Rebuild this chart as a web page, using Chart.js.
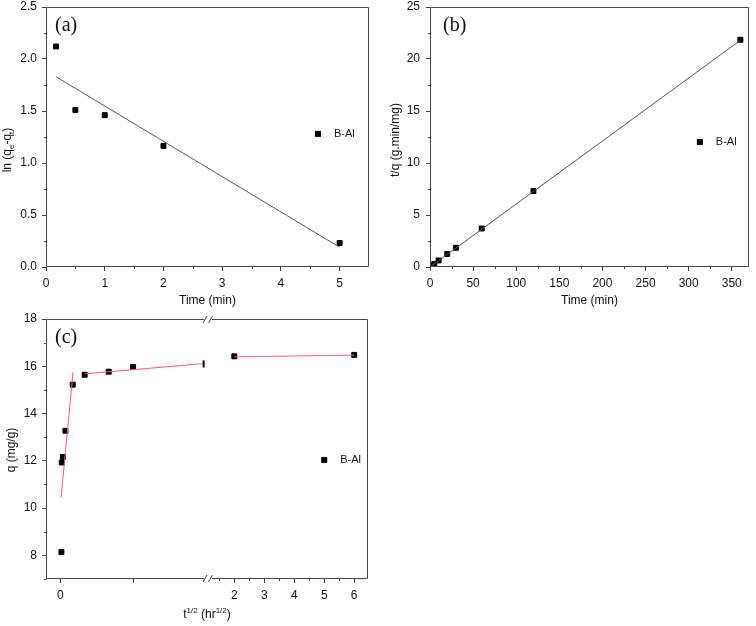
<!DOCTYPE html>
<html>
<head>
<meta charset="utf-8">
<script src="https://cdn.jsdelivr.net/npm/chart.js@4.4.0/dist/chart.umd.min.js"></script>
<style>
  body { margin: 0; background: #fff; }
  #wrap { position: relative; width: 756px; height: 626px; }
  canvas { position: absolute; }
</style>
</head>
<body>
<div id="wrap">
  <canvas id="chartA" width="378" height="312" style="left:0;top:0"></canvas>
  <canvas id="chartB" width="378" height="312" style="left:378px;top:0"></canvas>
  <canvas id="chartC" width="400" height="314" style="left:0;top:312px"></canvas>
</div>
<script>
// (a) ln(qe-qt) vs time
const timeA = [0.17, 0.5, 1, 2, 5];
const lnA = [2.12, 1.51, 1.46, 1.165, 0.23];
const fitTimeA = [0.17, 5];
const fitLnA = [1.83, 0.19];
const ticksAX = [0, 1, 2, 3, 4, 5];
const ticksAY = [0, 0.5, 1, 1.5, 2, 2.5];
const minorAX = [0.5, 1.5, 2.5, 3.5, 4.5];
const minorAY = [0.25, 0.75, 1.25, 1.75, 2.25];

// (b) t/q vs time
const timeB = [2, 5, 10, 20, 30, 60, 120, 360];
const tqB = [0.12, 0.3, 0.63, 1.25, 1.85, 3.7, 7.3, 21.85];
const fitTimeB = [1, 360];
const fitTqB = [0.06, 21.8];
const ticksBX = [0, 50, 100, 150, 200, 250, 300, 350];
const ticksBY = [0, 5, 10, 15, 20, 25];
const minorBX = [25, 75, 125, 175, 225, 275, 325];
const minorBY = [2.5, 7.5, 12.5, 17.5, 22.5];

// (c) q vs t^1/2, broken x axis
const rootTimeC1 = [0.015, 0.02, 0.035, 0.07, 0.17, 0.335, 0.665, 1.0, 1.97];
const qC1 = [8.14, 11.93, 12.16, 13.27, 15.22, 15.64, 15.77, 15.97, 16.1];
const rootTimeC2 = [2, 6];
const qC2 = [16.42, 16.48];
const fit1X = [0.01, 0.175], fit1Y = [10.44, 15.75];
const fit2X = [0.335, 1.96], fit2Y = [15.68, 16.11];
const fit3X = [2, 6], fit3Y = [16.4, 16.47];
const ticksCXL = [0, 1];
const labelsCXL = ['0', ''];
const ticksCXR = [2, 3, 4, 5, 6];
const ticksCY = [8, 10, 12, 14, 16, 18];
const minorCXR = [1.5, 2.5, 3.5, 4.5, 5.5];
const minorCY = [7, 9, 11, 13, 15, 17];

const seriesName = 'B-Al';
const FONT = '"Liberation Sans", Arial, sans-serif';
const INK = '#111';
const AXIS = '#444';

function pts(xs, ys) {
  return xs.map((x, i) => ({ x: x, y: ys[i] }));
}

function axis(min, max, ticks, fmt, size, extra) {
  return Object.assign({
    type: 'linear',
    min: min,
    max: max,
    afterBuildTicks: s => { s.ticks = ticks.map(v => ({ value: v })); },
    afterFit: s => {
      if (s.isHorizontal()) s.height = size; else s.width = size;
      // no extra room for overhanging labels, the layout padding handles it
      s.paddingTop = s.paddingBottom = s.paddingLeft = s.paddingRight = 0;
    },
    ticks: {
      font: { family: FONT, size: 12 },
      color: INK,
      padding: 5,
      autoSkip: false,
      maxRotation: 0,
      callback: fmt
    },
    grid: { display: true, drawOnChartArea: false, drawTicks: true, tickLength: 4, tickColor: AXIS, lineWidth: 1 },
    border: { display: false }
  }, extra || {});
}

function markers(data, extra) {
  return Object.assign({
    label: seriesName,
    data: data,
    pointStyle: 'rect',
    pointRadius: 3.5,
    borderWidth: 1,
    backgroundColor: '#000',
    borderColor: '#000'
  }, extra || {});
}

function fitLine(data, color, extra) {
  return Object.assign({
    data: data,
    showLine: true,
    pointRadius: 0,
    borderColor: color,
    borderWidth: 1,
    fill: false
  }, extra || {});
}

function richText(ctx, parts, x, y, angle, size) {
  ctx.save();
  ctx.translate(x, y);
  ctx.rotate(angle);
  const big = size + 'px ' + FONT;
  const small = Math.round(size * 0.7) + 'px ' + FONT;
  let w = 0;
  parts.forEach(p => { ctx.font = p[1] ? small : big; w += ctx.measureText(p[0]).width; });
  let cx = -w / 2;
  ctx.textBaseline = 'middle';
  ctx.textAlign = 'left';
  ctx.fillStyle = INK;
  parts.forEach(p => {
    ctx.font = p[1] ? small : big;
    const dy = p[1] === 'sub' ? size * 0.3 : p[1] === 'sup' ? -size * 0.35 : 0;
    ctx.fillText(p[0], cx, dy);
    cx += ctx.measureText(p[0]).width;
  });
  ctx.restore();
}

// frame, minor ticks, panel tag, legend and axis titles
const deco = {
  id: 'deco',
  afterDraw(chart, args, o) {
    const ctx = chart.ctx;
    const a = chart.chartArea;
    const L = Math.round(a.left) + 0.5, R = Math.round(a.right) - 0.5;
    const T = Math.round(a.top) + 0.5, B = Math.round(a.bottom) - 0.5;
    ctx.save();
    ctx.strokeStyle = AXIS;
    ctx.lineWidth = 1;
    ctx.beginPath();
    ctx.moveTo(L, T); ctx.lineTo(L, B);
    ctx.moveTo(R, T); ctx.lineTo(R, B);
    if (o.breakScale) {
      const bx = Math.round(chart.scales[o.breakScale].right);
      [T, B].forEach(y => {
        ctx.moveTo(L, y); ctx.lineTo(bx - 4, y);
        ctx.moveTo(bx + 4, y); ctx.lineTo(R, y);
        ctx.moveTo(bx - 5, y + 3.5); ctx.lineTo(bx - 1, y - 3.5);
        ctx.moveTo(bx + 0.5, y + 3.5); ctx.lineTo(bx + 4.5, y - 3.5);
      });
    } else {
      ctx.moveTo(L, T); ctx.lineTo(R, T);
      ctx.moveTo(L, B); ctx.lineTo(R, B);
    }
    // minor ticks
    (o.minor || []).forEach(m => {
      const s = chart.scales[m[0]];
      m[1].forEach(v => {
        const p = Math.round(s.getPixelForValue(v)) + 0.5;
        if (s.isHorizontal()) { ctx.moveTo(p, B); ctx.lineTo(p, B + 2.5); }
        else { ctx.moveTo(L, p); ctx.lineTo(L - 2.5, p); }
      });
    });
    ctx.stroke();

    // panel tag
    ctx.fillStyle = INK;
    ctx.font = '20px "Liberation Serif", "Times New Roman", serif';
    ctx.textBaseline = 'top';
    ctx.textAlign = 'left';
    ctx.fillText(o.tag, o.tagPos[0], o.tagPos[1]);

    // legend
    const lx = a.left + o.legend[0] * a.width;
    const ly = a.top + o.legend[1] * a.height;
    ctx.fillStyle = '#000';
    ctx.fillRect(lx - 3, ly - 3, 6, 6);
    ctx.font = '11px ' + FONT;
    ctx.textBaseline = 'middle';
    ctx.fillStyle = INK;
    ctx.fillText(seriesName, lx + 16, ly + 0.5);

    // axis titles
    richText(ctx, o.xTitle, (a.left + a.right) / 2, o.xTitleY, 0, 12);
    richText(ctx, o.yTitle, o.yTitlePos[0], o.yTitlePos[1], -Math.PI / 2, 12);
    ctx.restore();
  }
};

function baseOptions(padding, scales, decoOpts) {
  return {
    responsive: false,
    animation: false,
    devicePixelRatio: 1,
    layout: { padding: padding },
    scales: scales,
    plugins: { legend: { display: false }, tooltip: { enabled: false }, deco: decoOpts }
  };
}

const fmt1 = v => v.toFixed(1);
const fmt0 = v => String(v);

new Chart(document.getElementById('chartA'), {
  type: 'scatter',
  data: {
    datasets: [
      fitLine(pts(fitTimeA, fitLnA), '#555'),
      markers(pts(timeA, lnA))
    ]
  },
  plugins: [deco],
  options: baseOptions({ left: 0, right: 9, top: 7, bottom: 0 }, {
    x: axis(0, 5.5, ticksAX, fmt0, 45),
    y: axis(0, 2.5, ticksAY, fmt1, 46)
  }, {
    tag: '(a)', tagPos: [55, 16],
    legend: [0.842, 0.488],
    minor: [['x', minorAX], ['y', minorAY]],
    xTitle: [['Time (min)', 0]], xTitleY: 301,
    yTitle: [['ln (q', 0], ['e', 'sub'], ['-q', 0], ['t', 'sub'], [')', 0]],
    yTitlePos: [8, 150]
  })
});

new Chart(document.getElementById('chartB'), {
  type: 'scatter',
  data: {
    datasets: [
      fitLine(pts(fitTimeB, fitTqB), '#555'),
      markers(pts(timeB, tqB))
    ]
  },
  plugins: [deco],
  options: baseOptions({ left: 0, right: 7, top: 7, bottom: 0 }, {
    x: axis(0, 370, ticksBX, fmt0, 45),
    y: axis(0, 25, ticksBY, fmt0, 52, { ticks: { font: { family: FONT, size: 12 }, color: INK, padding: 6, callback: fmt0 } })
  }, {
    tag: '(b)', tagPos: [65, 16],
    legend: [0.846, 0.519],
    minor: [['x', minorBX], ['y', minorBY]],
    xTitle: [['Time (min)', 0]], xTitleY: 301,
    yTitle: [['t/q (g.min/mg)', 0]],
    yTitlePos: [18, 140]
  })
});

const pink = '#f7588a';
const lastC1 = rootTimeC1.length - 1;

new Chart(document.getElementById('chartC'), {
  type: 'scatter',
  data: {
    datasets: [
      fitLine(pts(fit1X, fit1Y), pink, { xAxisID: 'xL' }),
      fitLine(pts(fit2X, fit2Y), pink, { xAxisID: 'xL' }),
      fitLine(pts(fit3X, fit3Y), pink, { xAxisID: 'xR' }),
      markers(pts(rootTimeC1, qC1), {
        xAxisID: 'xL',
        pointStyle: c => c.dataIndex === lastC1 ? 'line' : 'rect',
        rotation: c => c.dataIndex === lastC1 ? 90 : 0,
        borderWidth: c => c.dataIndex === lastC1 ? 2 : 1
      }),
      markers(pts(rootTimeC2, qC2), { xAxisID: 'xR' })
    ]
  },
  plugins: [deco],
  options: baseOptions({ left: 0, right: 32, top: 7, bottom: 0 }, {
    xL: axis(-0.197, 2.03, ticksCXL, (v, i) => labelsCXL[i], 47, { axis: 'x', position: 'bottom', stack: 'brk', stackWeight: 162 }),
    xR: axis(1.123, 6.46, ticksCXR, fmt0, 47, { axis: 'x', position: 'bottom', stack: 'brk', stackWeight: 160 }),
    y: axis(7, 18, ticksCY, fmt0, 46)
  }, {
    tag: '(c)', tagPos: [55, 16],
    legend: [0.864, 0.542],
    breakScale: 'xL',
    minor: [['xR', minorCXR], ['y', minorCY]],
    xTitle: [['t', 0], ['1/2', 'sup'], [' (hr', 0], ['1/2', 'sup'], [')', 0]], xTitleY: 303,
    yTitle: [['q (mg/g)', 0]],
    yTitlePos: [12, 138]
  })
});
</script>
</body>
</html>
